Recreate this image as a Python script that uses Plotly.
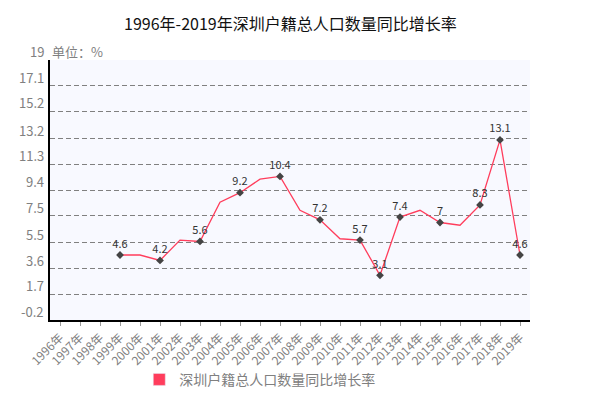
import plotly.graph_objects as go

years = [f"{y}年" for y in range(1996, 2020)]
growth = [None, None, None, 4.6, 4.6, 4.2, 5.7, 5.6, 8.5, 9.2, 10.2, 10.4,
          7.9, 7.2, 5.8, 5.7, 3.1, 7.4, 7.9, 7.0, 6.8, 8.3, 13.1, 4.6]
labelled = ["1999年", "2001年", "2003年", "2005年", "2007年", "2009年", "2011年",
            "2012年", "2013年", "2015年", "2017年", "2018年", "2019年"]
y_ticks = [-0.2, 1.7, 3.6, 5.5, 7.5, 9.4, 11.3, 13.2, 15.2, 17.1, 19]
series_name = "深圳户籍总人口数量同比增长率"

FONT = "Noto Sans CJK SC"
LINE = "#ff3d5c"

mk_x = [y for y in years if y in labelled]
mk_y = [growth[years.index(y)] for y in mk_x]
mk_txt = [f"{v:g}" for v in mk_y]

fig = go.Figure()

fig.add_trace(go.Scatter(
    x=years, y=growth, mode="lines",
    line=dict(color=LINE, width=1.3),
    showlegend=False, connectgaps=False
))

fig.add_trace(go.Scatter(
    x=mk_x, y=mk_y, mode="markers+text",
    marker=dict(color="#444444", size=6, symbol="diamond"),
    text=mk_txt, textposition="top center",
    textfont=dict(family=FONT, size=11, color="#333333"),
    showlegend=False
))

# legend entry with a square swatch
fig.add_trace(go.Bar(
    x=[None], y=[None], name=series_name,
    marker_color=LINE, showlegend=True
))

# y labels sit just above each gridline
for v in y_ticks:
    fig.add_annotation(
        x=0, xref="paper", y=v, yref="y",
        text=f"{v:g}", showarrow=False,
        xanchor="right", yanchor="bottom", xshift=-4, yshift=-3,
        font=dict(family=FONT, size=13, color="#808080")
    )

fig.add_annotation(
    x=0, xref="paper", y=19, yref="y",
    text="单位：%", showarrow=False,
    xanchor="left", yanchor="bottom", xshift=0, yshift=-3,
    font=dict(family=FONT, size=13, color="#808080")
)

fig.update_layout(
    width=610, height=406,
    margin=dict(l=50, r=80, t=60, b=86, autoexpand=False),
    paper_bgcolor="white",
    plot_bgcolor="#f8f9ff",
    title=dict(
        text="1996年-2019年深圳户籍总人口数量同比增长率",
        x=0.476, xanchor="center", y=0.94, yanchor="middle",
        font=dict(family=FONT, size=16, color="#111111")
    ),
    legend=dict(
        orientation="h", x=0.186, xanchor="left", y=-0.23, yanchor="middle",
        font=dict(family=FONT, size=14, color="#808080"),
        bgcolor="rgba(0,0,0,0)", itemwidth=30
    ),
    font=dict(family=FONT)
)

fig.update_xaxes(
    type="category", categoryorder="array", categoryarray=years,
    range=[-0.5, 23.5], automargin=False,
    tickangle=-45,
    tickfont=dict(family=FONT, size=12, color="#808080"),
    showline=True, linecolor="black", linewidth=2,
    ticks="outside", ticklen=4, tickcolor="#999999",
    showgrid=False, zeroline=False
)

fig.update_yaxes(
    range=[-0.2, 19], tickvals=y_ticks, showticklabels=False,
    automargin=False,
    showline=True, linecolor="black", linewidth=2,
    showgrid=True, gridcolor="#808080", griddash="5px,3px", gridwidth=1,
    zeroline=False, ticks=""
)

# drop the default page margin so the figure sits at the window corner
fig.write_html("out.html", config={"displayModeBar": False},
               post_script="document.body.style.margin='0';")
